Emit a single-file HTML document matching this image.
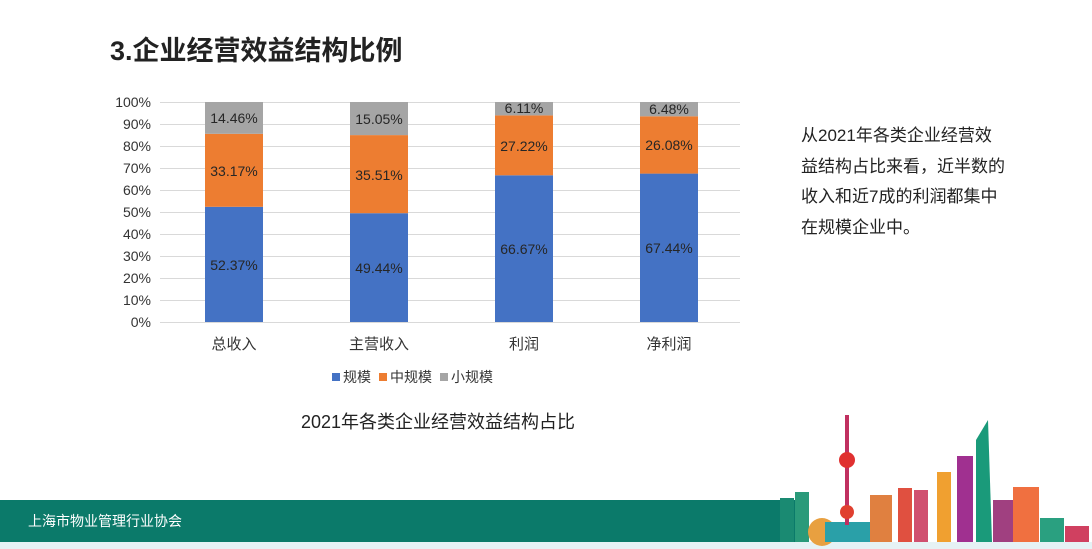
<!DOCTYPE html>
<html><head><meta charset="utf-8"><style>
body{margin:0;width:1092px;height:549px;background:#fff;position:relative;overflow:hidden;font-family:"Liberation Sans","Noto Sans CJK SC",sans-serif;}
.t{position:absolute;white-space:nowrap;}
</style></head><body>
<div class="t" style="left:110px;top:29px;font-size:27px;font-weight:bold;color:#222;">3.企业经营效益结构比例</div>
<svg width="1092" height="549" style="position:absolute;left:0;top:0" font-family="Liberation Sans, Noto Sans CJK SC, sans-serif">
<g stroke="#d9d9d9" stroke-width="1">
<line x1="160" x2="740" y1="102.5" y2="102.5"/><line x1="160" x2="740" y1="124.5" y2="124.5"/><line x1="160" x2="740" y1="146.5" y2="146.5"/><line x1="160" x2="740" y1="168.5" y2="168.5"/><line x1="160" x2="740" y1="190.5" y2="190.5"/><line x1="160" x2="740" y1="212.5" y2="212.5"/><line x1="160" x2="740" y1="234.5" y2="234.5"/><line x1="160" x2="740" y1="256.5" y2="256.5"/><line x1="160" x2="740" y1="278.5" y2="278.5"/><line x1="160" x2="740" y1="300.5" y2="300.5"/><line x1="160" x2="740" y1="322.5" y2="322.5"/>
</g>
<g font-size="14" fill="#333" text-anchor="end">
<text x="151" y="107">100%</text><text x="151" y="129">90%</text><text x="151" y="151">80%</text><text x="151" y="173">70%</text><text x="151" y="195">60%</text><text x="151" y="217">50%</text><text x="151" y="239">40%</text><text x="151" y="261">30%</text><text x="151" y="283">20%</text><text x="151" y="305">10%</text><text x="151" y="327">0%</text>
</g>
<rect x="205" y="206.8" width="58" height="115.2" fill="#4472c4"/><rect x="205" y="133.8" width="58" height="73" fill="#ed7d31"/><rect x="205" y="102" width="58" height="31.8" fill="#a5a5a5"/>
<rect x="350" y="213.2" width="58" height="108.8" fill="#4472c4"/><rect x="350" y="135.1" width="58" height="78.1" fill="#ed7d31"/><rect x="350" y="102" width="58" height="33.1" fill="#a5a5a5"/>
<rect x="495" y="175.3" width="58" height="146.7" fill="#4472c4"/><rect x="495" y="115.4" width="58" height="59.9" fill="#ed7d31"/><rect x="495" y="102" width="58" height="13.4" fill="#a5a5a5"/>
<rect x="640" y="173.6" width="58" height="148.4" fill="#4472c4"/><rect x="640" y="116.3" width="58" height="57.3" fill="#ed7d31"/><rect x="640" y="102" width="58" height="14.3" fill="#a5a5a5"/>
<g font-size="14" fill="#262626" text-anchor="middle">
<text x="234" y="123">14.46%</text><text x="234" y="176">33.17%</text><text x="234" y="270">52.37%</text>
<text x="379" y="124">15.05%</text><text x="379" y="180">35.51%</text><text x="379" y="273">49.44%</text>
<text x="524" y="113">6.11%</text><text x="524" y="151">27.22%</text><text x="524" y="254">66.67%</text>
<text x="669" y="114">6.48%</text><text x="669" y="150">26.08%</text><text x="669" y="253">67.44%</text>
</g>
<g font-size="15" fill="#333" text-anchor="middle">
<text x="234" y="349">总收入</text><text x="379" y="349">主营收入</text><text x="524" y="349">利润</text><text x="669" y="349">净利润</text>
</g>
<rect x="332" y="373" width="8" height="8" fill="#4472c4"/><text x="343" y="382" font-size="14" fill="#333">规模</text>
<rect x="379" y="373" width="8" height="8" fill="#ed7d31"/><text x="390" y="382" font-size="14" fill="#333">中规模</text>
<rect x="440" y="373" width="8" height="8" fill="#a5a5a5"/><text x="451" y="382" font-size="14" fill="#333">小规模</text>
<text x="438" y="428" font-size="18" fill="#222" text-anchor="middle">2021年各类企业经营效益结构占比</text>
<rect x="0" y="500" width="800" height="42" fill="#0b7a6a"/>
<rect x="0" y="542" width="1092" height="7" fill="#e6f2f5"/>
<text x="28" y="526" font-size="14" fill="#fff">上海市物业管理行业协会</text>
<rect x="780" y="498" width="14" height="44" fill="#1a8a72"/>
<rect x="795" y="492" width="14" height="50" fill="#2a9a7a"/>
<circle cx="822" cy="532" r="14" fill="#e8a040"/>
<rect x="825" y="522" width="50" height="20" fill="#2aa0a8"/>
<rect x="845" y="415" width="4" height="110" fill="#c03060"/>
<circle cx="847" cy="460" r="8" fill="#e03030"/>
<circle cx="847" cy="512" r="7" fill="#e04030"/>
<rect x="870" y="495" width="22" height="47" fill="#e08040"/>
<rect x="898" y="488" width="14" height="54" fill="#e05040"/>
<rect x="914" y="490" width="14" height="52" fill="#d05070"/>
<rect x="937" y="472" width="14" height="70" fill="#f0a030"/>
<rect x="957" y="456" width="16" height="86" fill="#a03090"/>
<polygon points="976,542 976,440 988,420 992,542" fill="#1a9a7a"/>
<rect x="993" y="500" width="20" height="42" fill="#a04080"/>
<rect x="1013" y="487" width="26" height="55" fill="#f07040"/>
<rect x="1040" y="518" width="24" height="24" fill="#2aa080"/>
<rect x="1065" y="526" width="24" height="16" fill="#d04060"/>
</svg>
<div class="t" style="left:801px;top:121px;font-size:17px;line-height:30.5px;color:#222;">从2021年各类企业经营效<br>益结构占比来看，近半数的<br>收入和近7成的利润都集中<br>在规模企业中。</div>
</body></html>
